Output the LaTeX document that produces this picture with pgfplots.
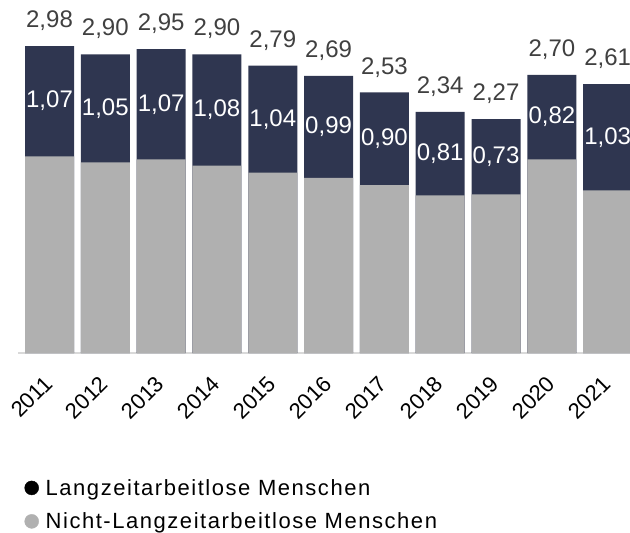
\documentclass[border=0pt]{standalone}
\usepackage{pgfplots}
\pgfplotsset{compat=1.18}
\usepackage{pgfplotstable}
\usepackage{fontspec}
\setmainfont{Liberation Sans}
\newfontfamily\legfont[LetterSpace=7]{Liberation Sans}
\definecolor{navy}{HTML}{2F3650}
\definecolor{lgray}{HTML}{B0B0B0}
\definecolor{lbl}{HTML}{404040}
\definecolor{axl}{HTML}{D9D9D9}
\pgfplotstableread{
x total top
0 2.98 1.07
1 2.90 1.05
2 2.95 1.07
3 2.90 1.08
4 2.79 1.04
5 2.69 0.99
6 2.53 0.90
7 2.34 0.81
8 2.27 0.73
9 2.70 0.82
10 2.61 1.03
}\datatable
\begin{document}
\begin{tikzpicture}
\begin{axis}[
  scale only axis,
  width=612pt, height=353pt,
  xmin=-0.5645, xmax=10.40,
  ymin=0, ymax=3.427,
  axis y line=none,
  axis x line*=bottom,
  x axis line style={draw=axl, line width=1.5pt, -},
  xtick={0,...,10},
  xticklabels={2011,2012,2013,2014,2015,2016,2017,2018,2019,2020,2021},
  xtick style={draw=none},
  xticklabel style={xshift=-1pt, yshift=-27pt, rotate=45, anchor=east, font=\fontsize{22}{26}\selectfont, text=black, inner sep=0pt},
  legend style={draw=none, fill=none, at={(axis description cs:0,0)}, anchor=north west, xshift=6.5pt, yshift=-124pt, font=\legfont\fontsize{22}{26}\selectfont, row sep=12pt, inner sep=0pt},
  legend cell align=left,
]
\addplot[ybar, bar width=0.878, bar shift=0pt, fill=navy, draw=none, forget plot] table[x=x, y=total] \datatable;
\addplot[ybar, bar width=0.878, bar shift=0pt, fill=lgray, draw=none, forget plot] table[x=x, y expr={\thisrow{total}-\thisrow{top}}] \datatable;
\addplot[draw=none, mark=none, forget plot, point meta=explicit,
  nodes near coords={\pgfmathprintnumber[use comma, fixed, fixed zerofill, precision=2, assume math mode=true]{\pgfplotspointmeta}},
  every node near coord/.style={anchor=center, text=lbl, font=\fontsize{24}{28}\selectfont}]
  table[x=x, y expr={\thisrow{total}+0.245}, meta=total] \datatable;
\addplot[draw=none, mark=none, forget plot, point meta=explicit,
  nodes near coords={\pgfmathprintnumber[use comma, fixed, fixed zerofill, precision=2, assume math mode=true]{\pgfplotspointmeta}},
  every node near coord/.style={anchor=center, text=white, font=\fontsize{24}{28}\selectfont}]
  table[x=x, y expr={\thisrow{total}-\thisrow{top}/2}, meta=top] \datatable;
\addlegendimage{only marks, mark=*, mark size=7pt, draw=black, fill=black}
\addlegendentry{\hspace*{5pt}Langzeitarbeitlose Menschen}
\addlegendimage{only marks, mark=*, mark size=7pt, draw=lgray, fill=lgray}
\addlegendentry{\hspace*{5pt}Nicht-Langzeitarbeitlose Menschen}
\end{axis}
\pgfresetboundingbox
\path (-18pt,-180pt) rectangle (612pt,353pt);
\end{tikzpicture}
\end{document}
